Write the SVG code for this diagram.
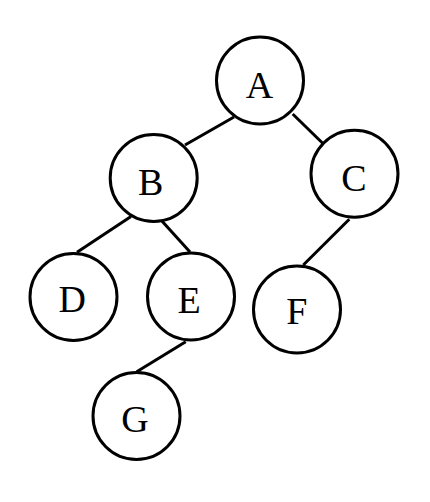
<svg xmlns="http://www.w3.org/2000/svg" width="430" height="502" viewBox="0 0 430 502">
<style>
.node circle{fill:#fff;stroke:#000;stroke-width:3}
.node text{font-family:"Liberation Serif","Times New Roman",serif;font-size:38px;fill:#000;text-anchor:middle}
#edges line{stroke:#000;stroke-width:3}
</style>
<rect width="430" height="502" fill="#fff"/>
<g id="edges">
<line x1="234" y1="117" x2="185" y2="145"/>
<line x1="292.7" y1="114" x2="322.7" y2="143.3"/>
<line x1="131" y1="216.5" x2="77" y2="252.3"/>
<line x1="161.7" y1="220.7" x2="190" y2="252"/>
<line x1="349.3" y1="219.3" x2="303.3" y2="265"/>
<line x1="185.7" y1="341.7" x2="136.7" y2="371.7"/>
</g>
<g id="A" class="node"><circle cx="260" cy="80.5" r="43.5"/><text x="259.5" y="97.5">A</text></g>
<g id="B" class="node"><circle cx="153.7" cy="178" r="43.5"/><text x="150.7" y="195">B</text></g>
<g id="C" class="node"><circle cx="354.5" cy="173.7" r="43.5"/><text x="354" y="190.5">C</text></g>
<g id="D" class="node"><circle cx="73.5" cy="297" r="43.5"/><text x="72.3" y="311.7">D</text></g>
<g id="E" class="node"><circle cx="191" cy="296.5" r="43.5"/><text x="189" y="312.7">E</text></g>
<g id="F" class="node"><circle cx="297" cy="309.5" r="43.5"/><text x="296.7" y="324">F</text></g>
<g id="G" class="node"><circle cx="136.5" cy="416" r="43.5"/><text x="135" y="431.7">G</text></g>
</svg>
